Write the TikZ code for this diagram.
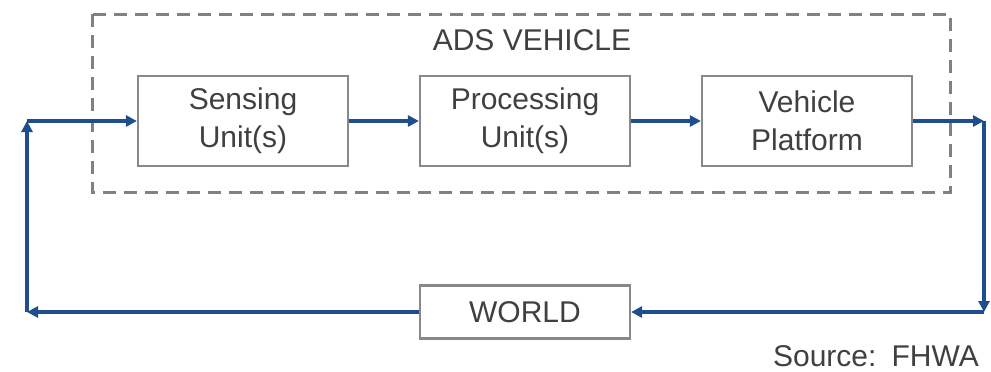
\documentclass[tikz,border=0pt]{standalone}
\usepackage{fontspec}
\setmainfont{Liberation Sans}
\usetikzlibrary{arrows.meta}
\definecolor{flow}{HTML}{1F4E8C}
\definecolor{boxline}{HTML}{888888}
\definecolor{txt}{HTML}{404040}
\begin{document}
\begin{tikzpicture}[x=1pt,y=-1pt,
  unit/.style={draw=boxline, line width=2.2pt, minimum width=210pt, minimum height=90pt,
    inner sep=0pt, align=center, font=\fontsize{30}{38}\selectfont, text=txt},
  link/.style={draw=flow, line width=3.8pt, -{Triangle[length=11pt,width=11pt]}},
  label/.style={font=\fontsize{30}{36}\selectfont, text=txt, inner sep=0pt}]
\useasboundingbox (0,0) rectangle (991,372);
% vehicle boundary
\draw[boxline!95!black, line width=3pt, dash pattern=on 13pt off 8pt] (92,14) rectangle (950,192);
\node[label] (title) at (532,40) {ADS VEHICLE};
% units
\node[unit] (sense) at (243,121) {Sensing\\Unit(s)};
\node[unit] (proc) at (525,121) {Processing\\Unit(s)};
\node[unit] (veh) at (807,121) {Vehicle\\Platform};
\node[unit, minimum height=53pt] (world) at (525,312) {WORLD};
% loop corners
\coordinate (tr) at (984,121);
\coordinate (br) at (984,312);
\coordinate (bl) at (27,312);
\coordinate (tl) at (27,121);
% connectors
\draw[link] (sense.east) -- (proc.west);
\draw[link] (proc.east) -- (veh.west);
\draw[link] (veh.east) -- (tr);
\draw[link] (tr) -- (br);
\draw[link] (br) -- (world.east);
\draw[link] (world.west) -- (bl);
\draw[link] (bl) -- (tl);
\draw[link] (tl) -- (sense.west);
\node[label, anchor=east] (src) at (979,356) {Source:\hspace{4pt} FHWA};
\end{tikzpicture}
\end{document}
